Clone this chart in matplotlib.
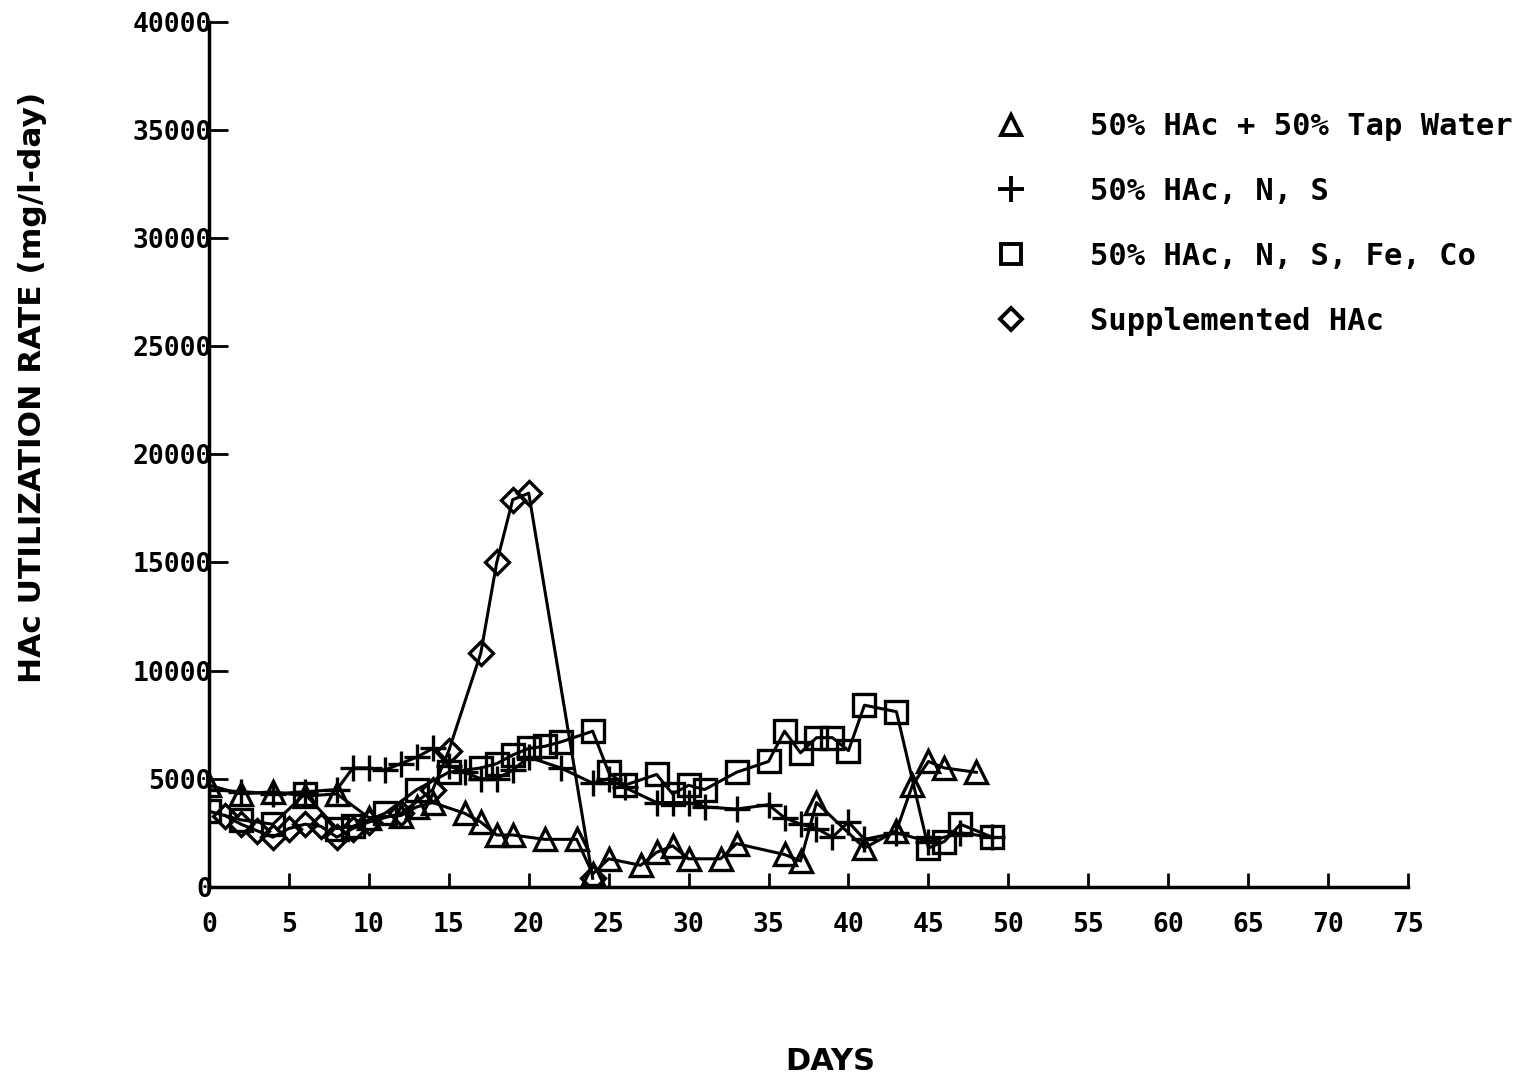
import matplotlib
matplotlib.use("Agg")
import matplotlib.pyplot as plt
from matplotlib.lines import Line2D

plt.rcParams['font.family'] = 'DejaVu Sans Mono'
plt.rcParams['font.weight'] = 'bold'

# 50% HAc + 50% Tap Water (triangles)
tri_days = [0, 2, 4, 6, 8, 10, 12, 13, 14, 16, 17, 18, 19, 21, 23, 24, 25, 27, 28, 29,
            30, 32, 33, 36, 37, 38, 41, 43, 44, 45, 46, 48]
tri_vals = [4700, 4300, 4400, 4200, 4300, 3200, 3300, 3700, 3900, 3400, 3000, 2400, 2400,
            2200, 2200, 600, 1300, 1000, 1600, 1900, 1300, 1300, 2000, 1500, 1200, 3900,
            1800, 2600, 4700, 5800, 5500, 5300]

# 50% HAc, N, S (plus)
plus_days = [0, 2, 4, 6, 8, 9, 10, 11, 12, 13, 14, 15, 16, 17, 18, 19, 20, 22, 24, 25,
             26, 28, 29, 30, 31, 33, 35, 36, 37, 38, 39, 40, 41, 43, 45, 47, 49]
plus_vals = [4500, 4400, 4300, 4400, 4500, 5500, 5500, 5400, 5700, 6000, 6400, 5600, 5300,
             5000, 5000, 5400, 6000, 5500, 4800, 5000, 4600, 3900, 3900, 3900, 3700, 3600,
             3800, 3200, 2900, 2700, 2300, 3000, 2200, 2500, 2100, 2500, 2300]

# 50% HAc, N, S, Fe, Co (squares)
sq_days = [0, 2, 4, 6, 8, 9, 11, 13, 15, 17, 18, 19, 20, 21, 22, 24, 25, 26, 28, 29, 30,
           31, 33, 35, 36, 37, 38, 39, 40, 41, 43, 45, 46, 47, 49]
sq_vals = [3500, 3100, 2900, 4300, 2700, 2800, 3400, 4500, 5300, 5500, 5700, 6100, 6400,
           6500, 6700, 7200, 5300, 4700, 5200, 4300, 4700, 4500, 5300, 5800, 7200, 6200,
           6900, 6900, 6300, 8400, 8100, 1800, 2100, 2900, 2300]

# Supplemented HAc (diamonds)
dia_days = [1, 2, 3, 4, 5, 6, 7, 8, 9, 10, 12, 14, 15, 17, 18, 19, 20, 24]
dia_vals = [3300, 2900, 2600, 2300, 2700, 2900, 2800, 2300, 2700, 3000, 3400, 4500, 6300,
            10800, 15000, 17900, 18200, 400]

labels = ['50% HAc + 50% Tap Water', '50% HAc, N, S', '50% HAc, N, S, Fe, Co',
          'Supplemented HAc']
x_ticks = list(range(0, 80, 5))
y_ticks = list(range(0, 45000, 5000))

fig = plt.figure(figsize=(15.4, 10.79), dpi=100)
ax = fig.add_axes([0.1357, 0.178, 0.7786, 0.802])

style = dict(color='black', lw=2.2, mfc='none', mec='black', mew=2.4)
ax.plot(tri_days, tri_vals, marker='^', ms=16, **style)
ax.plot(plus_days, plus_vals, marker='+', ms=19, **style)
ax.plot(sq_days, sq_vals, marker='s', ms=16, **style)
ax.plot(dia_days, dia_vals, marker='D', ms=12, **style)

ax.set_xlim(0, 75)
ax.set_ylim(0, 40000)
ax.set_xticks(x_ticks)
ax.set_yticks(y_ticks)
ax.tick_params(axis='x', direction='in', length=10, width=2, labelsize=19, pad=18)
ax.tick_params(axis='y', direction='in', length=14, width=2, labelsize=19, pad=-2)
for s in ['top', 'right']:
    ax.spines[s].set_visible(False)
for s in ['left', 'bottom']:
    ax.spines[s].set_linewidth(2.5)

# legend (markers only)
handles = [Line2D([], [], ls='none', marker=m, ms=ms, mfc='none', mec='black', mew=2.8)
           for m, ms in [('^', 14), ('+', 19), ('s', 14), ('D', 11)]]
ax.legend(handles, labels, loc='upper left', bbox_to_anchor=(0.643, 0.895),
          frameon=False, fontsize=22, numpoints=1, handlelength=2,
          handletextpad=1.6, labelspacing=1.17, borderpad=0, borderaxespad=0)

fig.text(0.021, 1 - 387 / 1079, 'HAc UTILIZATION RATE (mg/l-day)', rotation=90,
         ha='center', va='center', fontsize=22.5, family='DejaVu Sans', weight='bold')
fig.text(830 / 1540, 1 - 1062 / 1079, 'DAYS', ha='center', va='center', fontsize=22,
         family='DejaVu Sans', weight='bold')

fig.savefig('out.png', dpi=100)
